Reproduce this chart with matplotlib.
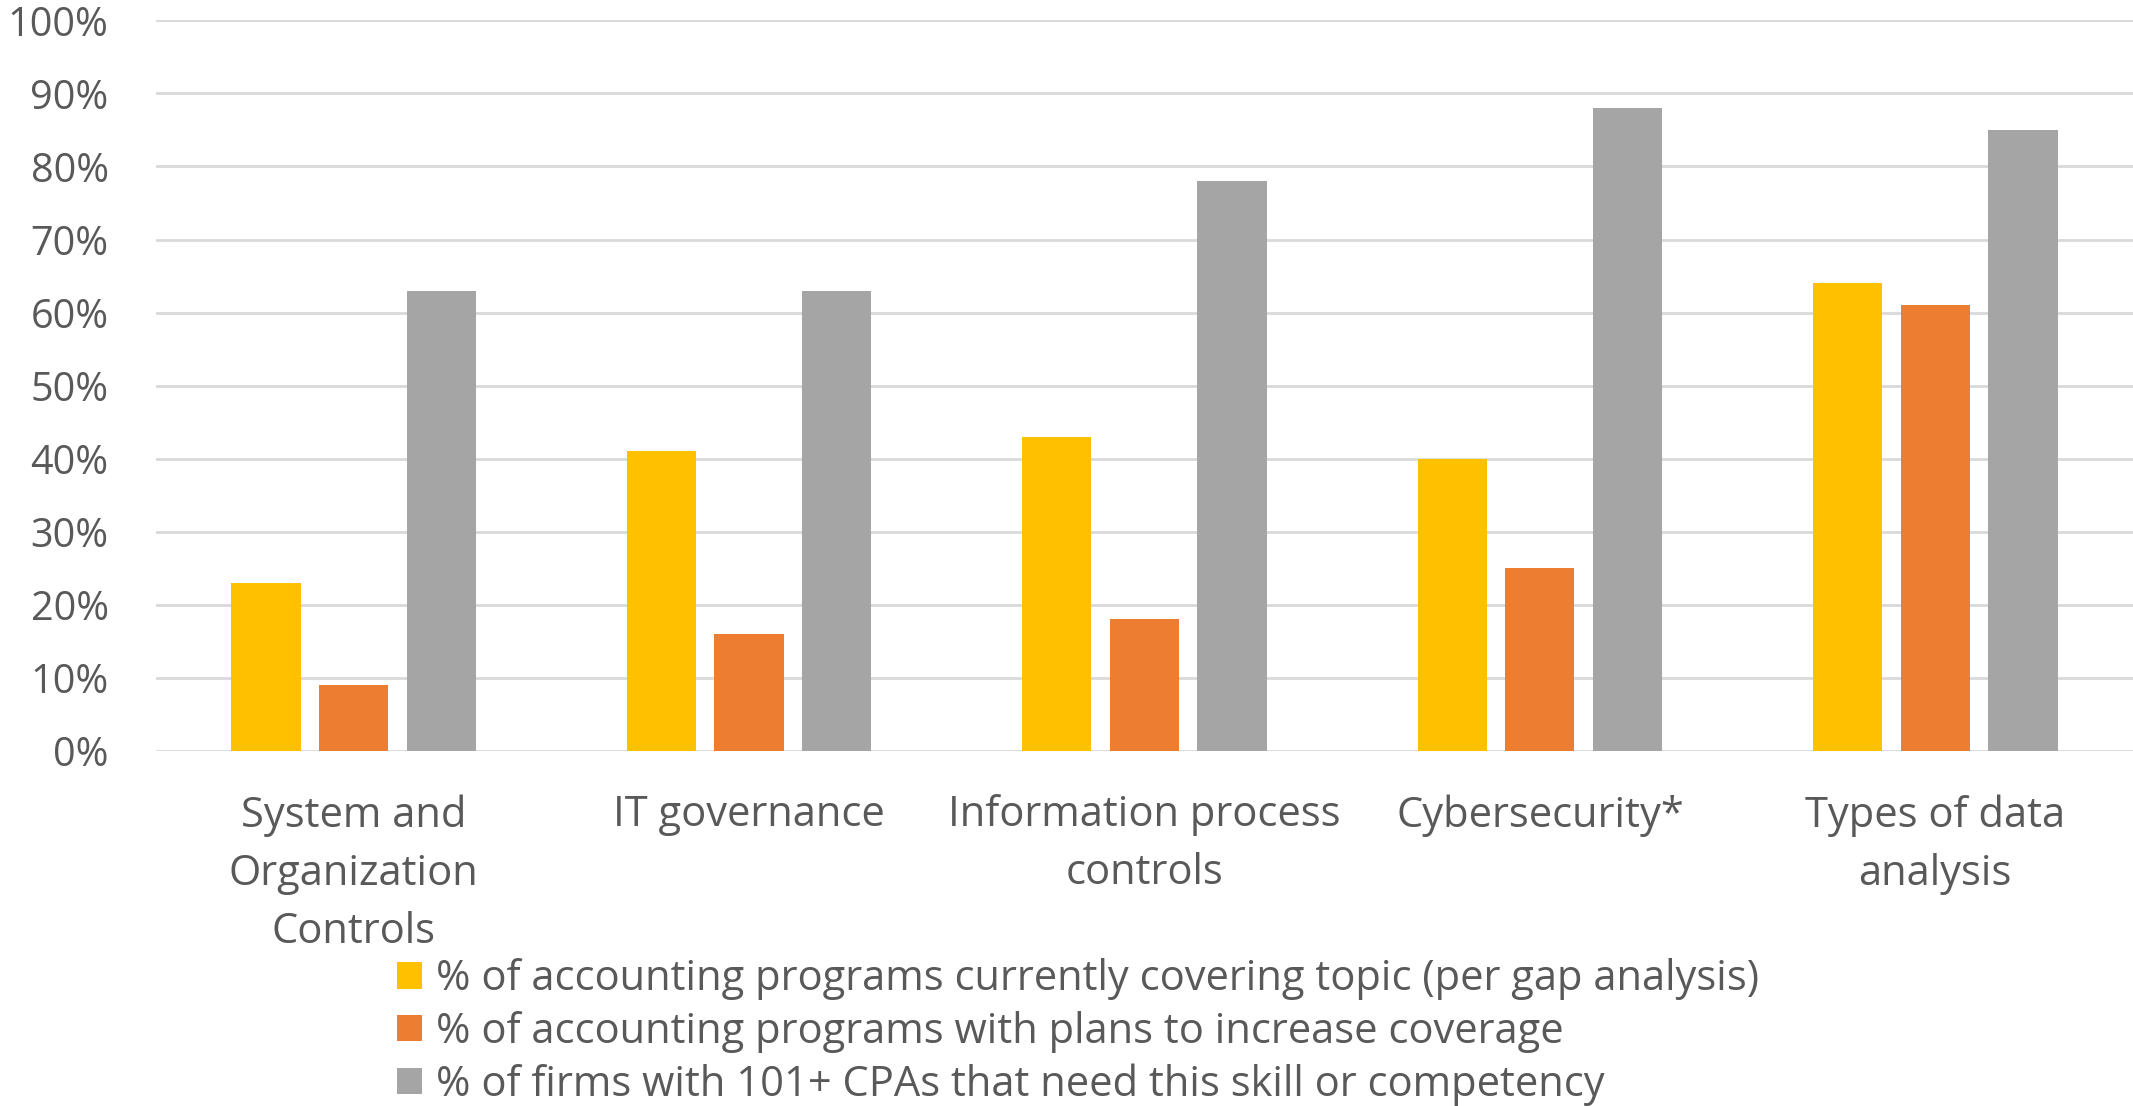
import matplotlib.pyplot as plt
import numpy as np

plt.rcParams['font.family'] = ['Open Sans', 'DejaVu Sans']

# Data
categories = ["System and\nOrganization\nControls", "IT governance",
              "Information process\ncontrols", "Cybersecurity*",
              "Types of data\nanalysis"]
covering = [23, 41, 43, 40, 64]
plans = [9, 16, 18, 25, 61]
firms_need = [63, 63, 78, 88, 85]
series_names = ["% of accounting programs currently covering topic (per gap analysis)",
                "% of accounting programs with plans to increase coverage",
                "% of firms with 101+ CPAs that need this skill or competency"]
colors = ["#FFC000", "#ED7D31", "#A5A5A5"]
text_col = "#595959"

fig = plt.figure(figsize=(21.33, 11.06), dpi=100)
ax = fig.add_axes([0.0731, 0.321, 0.9269, 0.6606])

x = np.arange(len(categories))
w = 0.175
step = 0.2216
bars = []
for i, vals in enumerate([covering, plans, firms_need]):
    b = ax.bar(x + (i - 1) * step, vals, width=w, color=colors[i], zorder=3,
               label=series_names[i])
    bars.append(b)

ax.set_xlim(-0.5, 4.5)
ax.set_ylim(0, 100)
ax.set_yticks(range(0, 101, 10))
ax.set_yticklabels([f"{v}%" for v in range(0, 101, 10)])
ax.set_xticks(x)
ax.set_xticklabels(categories, linespacing=1.5)
ax.grid(axis='y', color="#D9D9D9", linewidth=2, zorder=0)
for s in ax.spines.values():
    s.set_visible(False)
ax.tick_params(axis='both', length=0, labelcolor=text_col)
ax.tick_params(axis='y', pad=34, labelsize=28.5)
ax.tick_params(axis='x', pad=31, labelsize=30)

fig.legend(handles=bars, loc='upper left', bbox_to_anchor=(0.186, 0.1335),
           frameon=False, fontsize=30, labelcolor=text_col,
           handlelength=0.6, handleheight=0.6, handletextpad=0.35,
           labelspacing=0.25, borderaxespad=0, borderpad=0)

fig.savefig("out.png", dpi=100)
